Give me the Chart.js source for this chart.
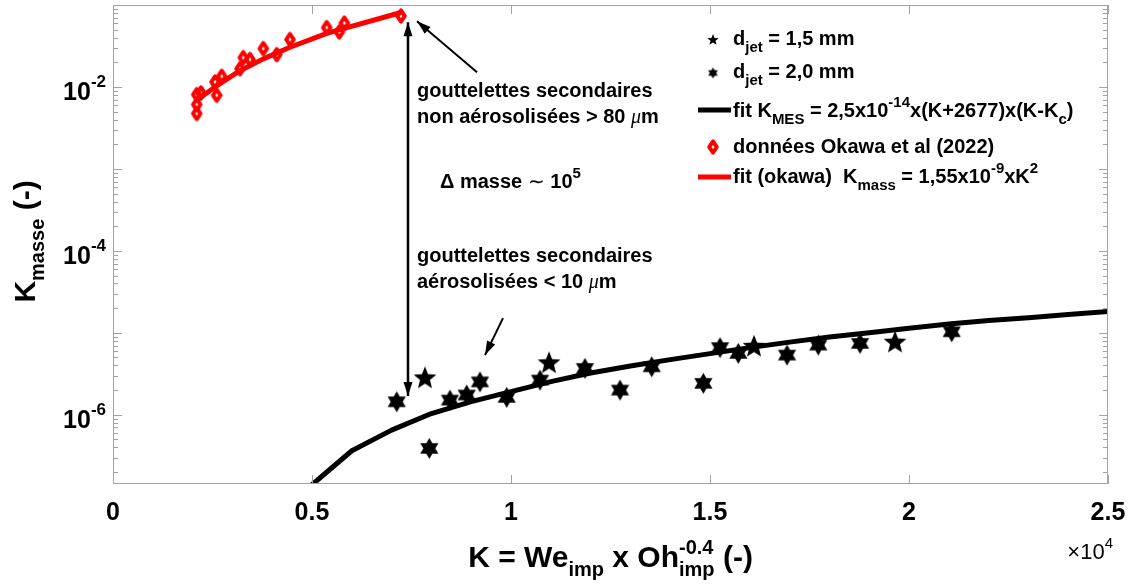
<!DOCTYPE html>
<html>
<head>
<meta charset="utf-8">
<script src="https://cdn.jsdelivr.net/npm/chart.js@4.4.1/dist/chart.umd.min.js"></script>
<style>
    html, body { margin: 0; padding: 0; background: #fff; }
    #wrap { width: 1132px; height: 585px; }
</style>
</head>
<body>
<div id="wrap"><canvas id="chart" width="1132" height="585"></canvas></div>
<script>
// --- Data ---
// Okawa et al (2022) points
const okawaK    = [2103, 2103, 2103, 2211, 2563, 2606, 2731, 3191, 3274, 3442, 3776, 4113, 4447, 5370, 5686, 5812, 7236];
const okawaMass = [4.74e-3, 6.1e-3, 8.07e-3, 8.45e-3, 1.15e-2, 7.92e-3, 1.35e-2, 1.67e-2, 2.28e-2, 2.16e-2,
                   2.94e-2, 2.48e-2, 3.79e-2, 5.30e-2, 4.69e-2, 6.03e-2, 7.35e-2];
// fit (okawa) curve
const okawaFitK    = [2103, 2563, 3191, 3776, 4447, 5370, 5812, 7236];
const okawaFitMass = [6.9e-3, 1.0e-2, 1.58e-2, 2.2e-2, 3.05e-2, 4.5e-2, 5.2e-2, 8.1e-2];

// d_jet = 1,5 mm
const jet15K    = [7839, 10955, 16106, 19649];
const jet15Mass = [2.78e-6, 4.24e-6, 6.75e-6, 7.59e-6];
// d_jet = 2,0 mm
const jet20K    = [7128, 7947, 8467, 8887, 9221, 9892, 10729, 11859, 12739, 13535, 14832, 15252, 15711, 16935, 17721, 18769, 21073];
const jet20Mass = [1.44e-6, 3.89e-7, 1.51e-6, 1.74e-6, 2.52e-6, 1.63e-6, 2.65e-6, 3.68e-6, 2.0e-6, 3.85e-6,
                   2.42e-6, 6.6e-6, 5.61e-6, 5.35e-6, 7.08e-6, 7.43e-6, 1.03e-5];

// fit K_MES curve
const mesFitK    = [5000, 6000, 7000, 8000, 9000, 10000, 11000, 12000, 13000, 14000, 15000,
                    16000, 17000, 18000, 19000, 20000, 21000, 22000, 23000, 24000, 25000];
const mesFitMass = [1.4e-7, 3.64e-7, 6.5e-7, 1.035e-6, 1.45e-6, 1.92e-6, 2.54e-6, 3.23e-6, 3.93e-6, 4.71e-6, 5.57e-6,
                    6.6e-6, 7.7e-6, 8.87e-6, 1.005e-5, 1.14e-5, 1.28e-5, 1.41e-5, 1.53e-5, 1.67e-5, 1.82e-5];

// axes
const xMin = 0, xMax = 25000;
const yMin = 1.43e-7, yMax = 0.1;
const xTickVals   = [0, 5000, 10000, 15000, 20000, 25000];
const xTickLabels = ['0', '0.5', '1', '1.5', '2', '2.5'];
const yLabelExps  = [-6, -4, -2];

// annotation arrows (data coords)
const arrowFromK = [7412, 9146, 9799];
const arrowFromV = [1.69e-6, 0.0151, 1.51e-5];
const arrowToK   = [7412, 7638, 9347];
const arrowToV   = [0.0615, 0.0632, 5.35e-6];
const arrowBoth  = [true, false, false];

// annotation text anchors (data coords, first baseline)
const noteK = [7638, 8216, 7638];
const noteV = [7.55e-3, 5.77e-4, 7.28e-5];

// --- Helpers ---
const FONT = "'Liberation Sans', Arial, sans-serif";
const AXIS_GRAY = '#a3a3a3';

function toXY(xs, ys) {
    return xs.map((x, i) => ({ x: x, y: ys[i] }));
}

function starCanvas(n, rOut, rIn, color) {
    const s = Math.ceil(rOut * 2 + 4);
    const c = document.createElement('canvas');
    c.width = s; c.height = s;
    const g = c.getContext('2d');
    g.translate(s / 2, s / 2);
    g.beginPath();
    for (let i = 0; i < 2 * n; i++) {
        const r = i % 2 === 0 ? rOut : rIn;
        const a = -Math.PI / 2 + i * Math.PI / n;
        g.lineTo(r * Math.cos(a), r * Math.sin(a));
    }
    g.closePath();
    g.fillStyle = color;
    g.fill();
    return c;
}

function diamondCanvas(hw, hh, lw, color) {
    const c = document.createElement('canvas');
    c.width = Math.ceil(hw * 2 + lw + 4);
    c.height = Math.ceil(hh * 2 + lw + 4);
    const g = c.getContext('2d');
    g.translate(c.width / 2, c.height / 2);
    g.beginPath();
    g.moveTo(0, -hh); g.lineTo(hw, 0); g.lineTo(0, hh); g.lineTo(-hw, 0);
    g.closePath();
    g.strokeStyle = color;
    g.lineWidth = lw;
    g.lineJoin = 'round';
    g.stroke();
    return c;
}

const pentaBig = starCanvas(5, 12, 5.2, '#000');
const hexaBig  = starCanvas(6, 10.5, 6.0, '#000');
const pentaSmall = starCanvas(5, 6, 2.6, '#000');
const hexaSmall  = starCanvas(6, 5.5, 3.2, '#000');
const diamondImg = diamondCanvas(3.8, 5.6, 4, '#ff0000');

// rich text: parts = [{t, sub, sup, stack, mu, plain}]
function partFont(ctx, p, st, small) {
    const size = small ? st.small : st.size;
    if (p.mu) {
        ctx.font = `italic ${st.size}px 'Liberation Serif', serif`;
    } else {
        const bold = st.bold && !p.plain;
        ctx.font = `${bold ? 'bold ' : ''}${size}px ${FONT}`;
    }
}
function partWidth(ctx, p, st) {
    partFont(ctx, p, st, p.sub || p.sup);
    let w = ctx.measureText(p.t).width;
    if (p.stack) {
        partFont(ctx, p, st, true);
        w = Math.max(w, ctx.measureText(p.stack).width);
    }
    return w;
}
function drawRich(ctx, parts, x, y, st, align) {
    let total = 0;
    parts.forEach(p => { total += partWidth(ctx, p, st); });
    let cx = align === 'center' ? x - total / 2 : align === 'right' ? x - total : x;
    ctx.textAlign = 'left';
    ctx.textBaseline = 'alphabetic';
    parts.forEach(p => {
        const w = partWidth(ctx, p, st);
        partFont(ctx, p, st, p.sub || p.sup);
        const dy = p.sub ? st.subDy : p.sup ? -st.supDy : 0;
        ctx.fillText(p.t, cx, y + dy);
        if (p.stack) {
            partFont(ctx, p, st, true);
            ctx.fillText(p.stack, cx, y - st.supDy);
        }
        cx += w;
    });
}

function drawArrowHead(ctx, x1, y1, x2, y2, len, half) {
    const a = Math.atan2(y2 - y1, x2 - x1);
    ctx.beginPath();
    ctx.moveTo(x2, y2);
    ctx.lineTo(x2 - len * Math.cos(a) + half * Math.sin(a), y2 - len * Math.sin(a) - half * Math.cos(a));
    ctx.lineTo(x2 - len * Math.cos(a) - half * Math.sin(a), y2 - len * Math.sin(a) + half * Math.cos(a));
    ctx.closePath();
    ctx.fill();
}

// styles
const legendSt = { size: 20, small: 15, bold: true, subDy: 7, supDy: 10 };
const noteSt   = { size: 20, small: 15, bold: true, subDy: 7, supDy: 10 };
const yTickSt  = { size: 25, small: 17, bold: true, subDy: 0, supDy: 13 };
const titleSt  = { size: 30, small: 20, bold: true, subDy: 9, supDy: 13 };
const multSt   = { size: 22, small: 15, bold: false, subDy: 0, supDy: 11 };

// --- Decoration plugin: box, inward ticks, labels, legend, notes ---
const decorPlugin = {
    id: 'decor',
    afterDraw(chart) {
        const ctx = chart.ctx;
        const a = chart.chartArea;
        const xs = chart.scales.x, ys = chart.scales.y;
        ctx.save();

        // box
        ctx.strokeStyle = AXIS_GRAY;
        ctx.lineWidth = 1;
        ctx.strokeRect(a.left + 0.5, a.top + 0.5, a.right - a.left - 1, a.bottom - a.top - 1);

        // x ticks (bottom + top)
        ctx.beginPath();
        xTickVals.forEach(v => {
            const px = Math.round(xs.getPixelForValue(v)) + 0.5;
            ctx.moveTo(px, a.bottom); ctx.lineTo(px, a.bottom - 9);
            ctx.moveTo(px, a.top); ctx.lineTo(px, a.top + 9);
        });
        // y ticks (left + right), decades and minors
        for (let e = -7; e <= -1; e++) {
            for (let m = 1; m <= 9; m++) {
                const v = m * Math.pow(10, e);
                if (v < yMin || v > yMax) continue;
                const py = Math.round(ys.getPixelForValue(v)) + 0.5;
                const len = m === 1 ? 9 : 5;
                ctx.moveTo(a.left, py); ctx.lineTo(a.left + len, py);
                ctx.moveTo(a.right, py); ctx.lineTo(a.right - len, py);
            }
        }
        ctx.stroke();

        ctx.fillStyle = '#000';
        // x tick labels
        ctx.font = `bold 25px ${FONT}`;
        ctx.textAlign = 'center';
        ctx.textBaseline = 'alphabetic';
        xTickVals.forEach((v, i) => {
            ctx.fillText(xTickLabels[i], xs.getPixelForValue(v), 520);
        });
        // y tick labels
        yLabelExps.forEach(e => {
            const py = ys.getPixelForValue(Math.pow(10, e));
            drawRich(ctx, [{ t: '10' }, { t: '-' + Math.abs(e), sup: true }], 106, py + 13, yTickSt, 'right');
        });

        // axis titles
        drawRich(ctx, [{ t: 'K = We' }, { t: 'imp', sub: true }, { t: ' x Oh' }, { t: 'imp', sub: true, stack: '-0.4' }, { t: ' (-)' }],
            (a.left + a.right) / 2, 567, titleSt, 'center');
        drawRich(ctx, [{ t: '\u00d710' }, { t: '4', sup: true }], 1113, 559, multSt, 'right');
        ctx.save();
        ctx.translate(35, (a.top + a.bottom) / 2 - 3);
        ctx.rotate(-Math.PI / 2);
        drawRich(ctx, [{ t: 'K' }, { t: 'masse', sub: true }, { t: ' (-)' }], 0, 0, titleSt, 'center');
        ctx.restore();

        // arrows
        ctx.strokeStyle = '#000';
        ctx.fillStyle = '#000';
        arrowFromK.forEach((k, i) => {
            const x1 = xs.getPixelForValue(k), y1 = ys.getPixelForValue(arrowFromV[i]);
            const x2 = xs.getPixelForValue(arrowToK[i]), y2 = ys.getPixelForValue(arrowToV[i]);
            ctx.lineWidth = arrowBoth[i] ? 2.5 : 2;
            ctx.beginPath();
            ctx.moveTo(x1, y1); ctx.lineTo(x2, y2);
            ctx.stroke();
            drawArrowHead(ctx, x1, y1, x2, y2, 14, 4.5);
            if (arrowBoth[i]) drawArrowHead(ctx, x2, y2, x1, y1, 14, 4.5);
        });

        // notes
        const notes = [
            [[{ t: 'gouttelettes secondaires' }],
             [{ t: 'non a\u00e9rosolis\u00e9es > 80 ' }, { t: '\u03bc', mu: true }, { t: 'm' }]],
            [[{ t: '\u0394 masse ' }, { t: '\u223c', plain: true }, { t: ' 10' }, { t: '5', sup: true }]],
            [[{ t: 'gouttelettes secondaires' }],
             [{ t: 'a\u00e9rosolis\u00e9es < 10 ' }, { t: '\u03bc', mu: true }, { t: 'm' }]]
        ];
        notes.forEach((lines, i) => {
            const nx = xs.getPixelForValue(noteK[i]);
            const ny = ys.getPixelForValue(noteV[i]);
            lines.forEach((parts, j) => drawRich(ctx, parts, nx, ny + j * 25.6, noteSt, 'left'));
        });

        // legend
        const lx = 713, tx = 733;
        ctx.drawImage(pentaSmall, lx - pentaSmall.width / 2, 40 - pentaSmall.height / 2);
        drawRich(ctx, [{ t: 'd' }, { t: 'jet', sub: true }, { t: ' = 1,5 mm' }], tx, 45, legendSt, 'left');
        ctx.drawImage(hexaSmall, lx - hexaSmall.width / 2, 73 - hexaSmall.height / 2);
        drawRich(ctx, [{ t: 'd' }, { t: 'jet', sub: true }, { t: ' = 2,0 mm' }], tx, 78, legendSt, 'left');
        ctx.lineWidth = 5;
        ctx.strokeStyle = '#000';
        ctx.beginPath(); ctx.moveTo(698, 110); ctx.lineTo(731, 110); ctx.stroke();
        drawRich(ctx, [{ t: 'fit K' }, { t: 'MES', sub: true }, { t: ' = 2,5x10' }, { t: '-14', sup: true },
                       { t: 'x(K+2677)x(K-K' }, { t: 'c', sub: true }, { t: ')' }], tx, 117, legendSt, 'left');
        ctx.drawImage(diamondImg, lx - diamondImg.width / 2, 147 - diamondImg.height / 2);
        drawRich(ctx, [{ t: 'donn\u00e9es Okawa et al (2022)' }], tx, 153, legendSt, 'left');
        ctx.strokeStyle = '#ff0000';
        ctx.beginPath(); ctx.moveTo(698, 177); ctx.lineTo(731, 177); ctx.stroke();
        drawRich(ctx, [{ t: 'fit (okawa)  K' }, { t: 'mass', sub: true }, { t: ' = 1,55x10' }, { t: '-9', sup: true },
                       { t: 'xK' }, { t: '2', sup: true }], tx, 183, legendSt, 'left');

        ctx.restore();
    }
};

// --- Chart ---
const ctx = document.getElementById('chart').getContext('2d');
new Chart(ctx, {
    type: 'scatter',
    data: {
        datasets: [
            {
                label: 'd_jet = 1,5 mm',
                data: toXY(jet15K, jet15Mass),
                pointStyle: pentaBig,
                order: 1
            },
            {
                label: 'd_jet = 2,0 mm',
                data: toXY(jet20K, jet20Mass),
                pointStyle: hexaBig,
                order: 1
            },
            {
                label: 'fit K_MES',
                data: toXY(mesFitK, mesFitMass),
                showLine: true,
                borderColor: '#000000',
                borderWidth: 5,
                borderJoinStyle: 'round',
                pointRadius: 0,
                order: 3
            },
            {
                label: 'données Okawa et al (2022)',
                data: toXY(okawaK, okawaMass),
                pointStyle: diamondImg,
                order: 1
            },
            {
                label: 'fit (okawa)',
                data: toXY(okawaFitK, okawaFitMass),
                showLine: true,
                borderColor: '#ff0000',
                borderWidth: 5,
                borderJoinStyle: 'round',
                pointRadius: 0,
                order: 3
            }
        ]
    },
    options: {
        responsive: false,
        animation: false,
        layout: { padding: { left: 113, right: 24, top: 5, bottom: 101 } },
        plugins: {
            legend: { display: false },
            tooltip: { enabled: false }
        },
        scales: {
            x: { type: 'linear', min: xMin, max: xMax, display: false },
            y: { type: 'logarithmic', min: yMin, max: yMax, display: false }
        }
    },
    plugins: [decorPlugin]
});
</script>
</body>
</html>
